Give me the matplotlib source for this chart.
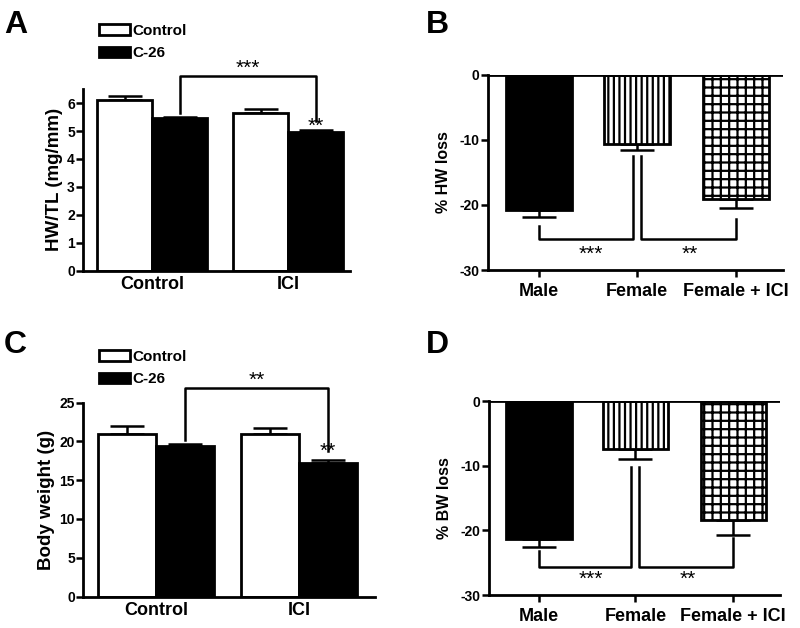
import matplotlib
matplotlib.use("Agg")
import matplotlib.pyplot as plt
import numpy as np

plt.rcParams['font.family'] = ['Liberation Sans', 'DejaVu Sans']
plt.rcParams['font.weight'] = 'bold'
plt.rcParams['axes.labelweight'] = 'bold'
plt.rcParams['axes.unicode_minus'] = False
plt.rcParams['hatch.linewidth'] = 1.6
plt.rcParams['hatch.color'] = 'black'

# data
groups = ["Control", "ICI"]
series = ["Control", "C-26"]

hwtl_mean = {"Control": [6.1, 5.65], "C-26": [5.47, 4.96]}
hwtl_err = {"Control": [0.17, 0.14], "C-26": [0.05, 0.08]}

bw_mean = {"Control": [20.9, 20.9], "C-26": [19.45, 17.15]}
bw_err = {"Control": [1.1, 0.85], "C-26": [0.25, 0.45]}

loss_groups = ["Male", "Female", "Female + ICI"]
hw_loss = [-20.8, -10.6, -19.1]
hw_loss_err = [1.0, 0.9, 1.35]
bw_loss = [-21.4, -7.4, -18.4]
bw_loss_err = [1.1, 1.5, 2.3]

fig = plt.figure(figsize=(8, 6.28), dpi=100)


def style_axes(ax):
    for s in ['top', 'right']:
        ax.spines[s].set_visible(False)
    for s in ['left', 'bottom']:
        ax.spines[s].set_linewidth(2.0)
    ax.tick_params(axis='y', width=1.8, length=5, labelsize=10, pad=1)
    ax.tick_params(axis='x', width=1.8, length=5, labelsize=13, pad=4)


def grouped_panel(rect, means, errs, ylabel, yticks, ylim, xmax, bracket,
                  star_big, big_label, star_small):
    ax = fig.add_axes(rect)
    centers = np.array([1.25, 3.72])
    offs = {"Control": -0.5, "C-26": 0.5}
    colors = {"Control": "white", "C-26": "black"}
    for s in series:
        ax.bar(centers + offs[s], means[s], width=1.0, color=colors[s],
               edgecolor='black', linewidth=2, label=s, zorder=2)
        ax.errorbar(centers + offs[s], means[s], yerr=[np.zeros(2), errs[s]],
                    fmt='none', ecolor='black', elinewidth=1.8, capsize=12,
                    capthick=1.8, zorder=1)
    ax.set_xlim(0, xmax)
    ax.set_ylim(*ylim)
    ax.set_yticks(yticks)
    ax.set_xticks(centers)
    ax.set_xticklabels(groups)
    ax.set_ylabel(ylabel, fontsize=13.5, labelpad=3)
    style_axes(ax)
    ax.tick_params(axis='x', length=0)
    # bracket between C-26 bars
    x1, x2 = centers + offs["C-26"]
    y1, ytop, y2 = bracket
    ax.plot([x1, x1, x2, x2], [y1, ytop, ytop, y2], color='black', lw=1.8,
            clip_on=False)
    ax.text((x1 + x2) / 2, star_big, big_label, ha='center', va='center',
            fontsize=15, fontweight='normal')
    ax.text(x2, star_small, "**", ha='center', va='center', fontsize=15,
            fontweight='normal')
    return ax


def loss_panel(rect, vals, errs, ylabel, b1, b2):
    ax = fig.add_axes(rect)
    xs = np.array([0.77, 2.25, 3.75])
    hatches = [None, '|||', '++']
    fills = ['black', 'white', 'white']
    for x, v, e, h, c in zip(xs, vals, errs, hatches, fills):
        ax.bar(x, v, width=1.0, color=c, edgecolor='black', linewidth=2,
               hatch=h, zorder=2)
        ax.errorbar(x, v, yerr=[[e], [0]], fmt='none', ecolor='black',
                    elinewidth=1.8, capsize=12, capthick=1.8, zorder=1)
    ax.axhline(0, color='black', lw=2.0, zorder=3)
    ax.set_xlim(0, 4.47)
    ax.set_ylim(-30, 0)
    ax.set_yticks([0, -10, -20, -30])
    ax.set_xticks(xs)
    ax.set_xticklabels(loss_groups)
    ax.set_ylabel(ylabel, fontsize=11.5, labelpad=6)
    style_axes(ax)
    # brackets: Male vs Female, Female vs Female + ICI
    ya, ylow, yb = b1
    ax.plot([xs[0], xs[0], xs[1] - 0.06, xs[1] - 0.06], [ya, ylow, ylow, yb],
            color='black', lw=1.8)
    ya, ylow, yb = b2
    ax.plot([xs[1] + 0.06, xs[1] + 0.06, xs[2], xs[2]], [ya, ylow, ylow, yb],
            color='black', lw=1.8)
    ax.text((xs[0] + xs[1]) / 2 + 0.05, -27.6, "***", ha='center', va='center',
            fontsize=15, fontweight='normal')
    ax.text((xs[1] + xs[2]) / 2 + 0.05, -27.6, "**", ha='center', va='center',
            fontsize=15, fontweight='normal')
    return ax


axA = grouped_panel([0.104, 0.569, 0.334, 0.289], hwtl_mean, hwtl_err,
                    "HW/TL (mg/mm)", range(0, 7), (0, 6.5), 4.85,
                    (5.65, 6.98, 5.37), 7.25, "***", 5.18)
axB = loss_panel([0.61, 0.570, 0.369, 0.311], hw_loss, hw_loss_err,
                 "% HW loss", (-23.2, -25.3, -12.5), (-12.5, -25.3, -22.2))
axC = grouped_panel([0.104, 0.050, 0.365, 0.309], bw_mean, bw_err,
                    "Body weight (g)", range(0, 26, 5), (0, 25), 5.03,
                    (20.2, 26.9, 18.7), 27.8, "**", 18.7)
axD = loss_panel([0.611, 0.0525, 0.364, 0.3085], bw_loss, bw_loss_err,
                 "% BW loss", (-23.2, -25.7, -10.1), (-10.1, -25.7, -21.2))

# legends for A and C
for ax, y in [(axA, 0.962), (axC, 0.443)]:
    ax.legend(loc='upper left', bbox_to_anchor=(0.124, y),
              bbox_transform=fig.transFigure, frameon=False, fontsize=11,
              handlelength=2.0, handleheight=0.7, handletextpad=0.2,
              labelspacing=0.55, borderpad=0, borderaxespad=0)

for lab, x, y in [("A", 0.005, 0.984), ("B", 0.532, 0.984),
                  ("C", 0.005, 0.474), ("D", 0.532, 0.474)]:
    fig.text(x, y, lab, fontsize=23, fontweight='bold', va='top', ha='left')

fig.savefig("out.png", dpi=100)
